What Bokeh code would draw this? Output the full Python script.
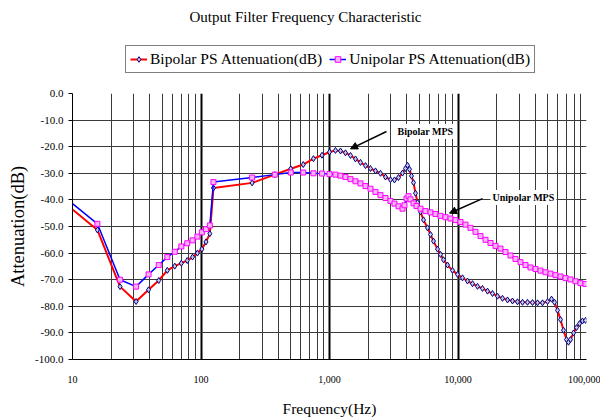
from bokeh.plotting import figure
from bokeh.layouts import column
from bokeh.models import (Range1d, FixedTicker, NumeralTickFormatter, Legend, LegendItem,
                          Label, Arrow, NormalHead)
from bokeh.embed import file_html
from bokeh.resources import INLINE

FONT = "Liberation Serif"

# ---- data ----
bipolar_freq = [10, 15.625, 23.44, 31.25, 39.06, 46.88, 54.69, 62.5, 70.31, 78.13, 85.94, 93.75,
                101.56, 109.38, 117.19, 125, 250, 375, 500, 625, 750, 875, 1000,
                1113, 1218, 1332, 1457, 1593, 1742, 1906, 2084, 2279, 2493,
                2727, 2982, 3205, 3444, 3700, 3904, 4046, 4193, 4346, 4505,
                4669, 4840, 5108, 5390, 5791, 6110, 6447, 6927, 7310, 7714,
                8287, 9064, 9911, 10840, 11856, 12968, 14185, 15512, 16966, 18557,
                20297, 22200, 24282, 26558, 29049, 31772, 34751, 38009, 41572, 45470,
                49733, 53432, 56381, 59493, 62776, 66239, 69894, 72440, 75082, 79226,
                83598, 88213, 93081, 98225]
bipolar_db = [-43.6, -51.3, -72.6, -78.2, -73.8, -70.3, -66.5, -64.9, -63.8, -62.8, -61.5, -60.0,
              -58.5, -55.8, -52.7, -35.5, -33.6, -30.5, -28.3, -26.7, -24.5, -23.2, -22.0,
              -21.4, -21.6, -22.3, -23.3, -24.6, -25.9, -27.1, -28.2, -29.1, -30.0,
              -31.4, -32.4, -32.5, -31.6, -29.9, -28.2, -27.0, -28.5, -31.0, -33.5,
              -37.5, -41.0, -44.5, -47.5, -50.5, -53.0, -55.5, -58.5, -60.5, -62.5,
              -64.5, -66.5, -68.0, -69.3, -70.5, -71.5, -72.5, -73.3, -74.3, -75.2,
              -76.2, -77.0, -77.6, -78.0, -78.3, -78.5, -78.5, -78.6, -78.7, -78.7,
              -78.2, -77.3, -78.5, -81.5, -85.0, -89.0, -92.5, -93.5, -92.5, -90.0,
              -88.0, -86.5, -85.5, -85.3]

unipolar_freq = [10, 15.625, 23.44, 31.25, 39.06, 46.88, 54.69, 62.5, 70.31, 78.13, 85.94, 93.75,
                 101.56, 109.38, 117.19, 125, 250, 375, 500, 625, 750, 875, 1000,
                 1113, 1218, 1332, 1457, 1593, 1742, 1906, 2084, 2279, 2493,
                 2727, 2982, 3205, 3444, 3700, 3835, 3975, 4119, 4269, 4505,
                 4754, 5108, 5587, 6110, 6683, 7310, 7995, 8745, 9562, 10458,
                 11439, 12512, 13685, 14966, 16370, 17905, 19584, 21419, 23428, 25625,
                 28027, 30655, 33529, 36672, 40111, 43871, 47984, 52483, 57400, 62776,
                 68653, 75082, 82114, 89808, 98225]
unipolar_db = [-41.4, -49.0, -70.0, -72.6, -68.0, -64.5, -61.5, -59.5, -57.5, -56.3, -55.2, -53.8,
               -52.2, -51.0, -49.6, -33.3, -31.6, -30.5, -29.7, -29.7, -30.0, -30.1, -30.3,
               -30.5, -30.9, -31.4, -32.2, -33.0, -33.8, -34.8, -35.8, -37.0, -38.2,
               -39.3, -40.4, -41.4, -42.4, -43.3, -42.0, -39.5, -38.6, -39.8, -41.3,
               -42.3, -43.3, -44.2, -44.7, -45.3, -46.0, -46.5, -47.0, -47.6, -48.3,
               -49.3, -50.5, -52.0, -53.6, -55.0, -56.2, -57.3, -58.3, -59.6, -60.9,
               -62.2, -63.4, -64.5, -65.4, -66.0, -66.6, -67.2, -67.7, -68.3, -68.8,
               -69.4, -69.9, -70.6, -71.3, -71.6]

x_ticks = [10, 100, 1000, 10000, 100000]
x_minor_ticks = [m * d for d in [10, 100, 1000, 10000] for m in range(2, 10)]
y_ticks = list(range(-100, 1, 10))

title_text = "Output Filter Frequency Characteristic"
series_names = ["Bipolar PS Attenuation(dB)", "Unipolar PS Attenuation(dB)"]

# annotation anchors (frequency, dB)
bip_note = dict(text="Bipolar MPS", x=3263, y=-14.3)
bip_arrow = dict(x0=2777, y0=-14.3, x1=1457, y1=-20.8)
uni_note = dict(text="Unipolar MPS", x=17905, y=-39.1)
uni_arrow = dict(x0=15512, y0=-39.5, x1=8587, y1=-45.0)

# styles
BIP_LINE = dict(line_color="#ff0000", line_width=2)
BIP_MARK = dict(marker="diamond", size=6, line_color="#000080", fill_color="#c8c8e6", line_width=1)
UNI_LINE = dict(line_color="#0000ff", line_width=1.5)
UNI_MARK = dict(marker="square", size=5, line_color="#ff00ff", fill_color="#f4b4f4", line_width=1)

# ---- header: title + legend (its frame is aligned with the main plot's frame) ----
head = figure(width=600, height=85, x_axis_type="log",
              x_range=Range1d(10, 100000), y_range=Range1d(0, 1),
              output_backend="svg", toolbar_location=None, title=None,
              x_axis_location=None, y_axis_location=None, min_border=0)
head.outline_line_color = None
head.background_fill_color = "white"
head.border_fill_color = "white"
head.xgrid.visible = False
head.ygrid.visible = False
# legend proxies: same series, falling outside this header's (0..1) y-range, so only the legend shows them
hbl = head.line(bipolar_freq, bipolar_db, **BIP_LINE)
hbm = head.scatter(bipolar_freq, bipolar_db, **BIP_MARK)
hul = head.line(unipolar_freq, unipolar_db, **UNI_LINE)
hum = head.scatter(unipolar_freq, unipolar_db, **UNI_MARK)
legend = Legend(items=[LegendItem(label=series_names[0], renderers=[hbl, hbm]),
                       LegendItem(label=series_names[1], renderers=[hul, hum])],
                orientation="horizontal", location=(53, 12),
                label_text_font=FONT, label_text_font_size="15.5px", label_text_color="black",
                border_line_color="black", border_line_width=1, background_fill_color="white",
                glyph_width=17, glyph_height=14, spacing=7, padding=4, label_standoff=3,
                margin=0)
head.add_layout(legend, "center")
head.add_layout(Label(x=233, y=69, x_units="screen", y_units="screen", text=title_text,
                      text_font=FONT, text_font_size="15px", text_color="black",
                      text_align="center", text_baseline="middle"))

# ---- main plot ----
p = figure(width=600, height=335, x_axis_type="log",
           x_range=Range1d(10, 100000), y_range=Range1d(-100, 0),
           output_backend="svg", toolbar_location=None, title=None,
           min_border_left=72, min_border_right=14, min_border_top=8, min_border_bottom=61)
p.background_fill_color = "white"
p.border_fill_color = "white"
p.outline_line_color = None

p.xgrid.grid_line_color = "black"
p.xgrid.grid_line_width = 2
p.xgrid.minor_grid_line_color = "#3a3a3a"
p.xgrid.minor_grid_line_width = 1
p.ygrid.grid_line_color = "#3a3a3a"
p.ygrid.grid_line_width = 1

p.xaxis.ticker = FixedTicker(ticks=x_ticks, minor_ticks=x_minor_ticks)
p.xgrid.ticker = p.xaxis.ticker
p.xaxis.formatter = NumeralTickFormatter(format="0,0")
p.xaxis.major_tick_out = 0
p.xaxis.major_tick_in = 0
p.xaxis.minor_tick_out = 0
p.xaxis.minor_tick_in = 0
p.xaxis.major_label_standoff = 16
p.xaxis.axis_label = "Frequency(Hz)"
p.xaxis.axis_label_standoff = 14

p.yaxis.ticker = FixedTicker(ticks=y_ticks)
p.ygrid.ticker = p.yaxis.ticker
p.yaxis.formatter = NumeralTickFormatter(format="0.0")
p.yaxis.major_tick_out = 4
p.yaxis.major_tick_in = 0
p.yaxis.major_label_standoff = 5
p.yaxis.axis_label = "Attenuation(dB)"
p.yaxis.axis_label_standoff = 4

for ax in (p.xaxis, p.yaxis):
    ax.axis_line_color = "black"
    ax.axis_line_width = 1
    ax.major_tick_line_color = "black"
    ax.major_label_text_font = FONT
    ax.major_label_text_color = "black"
    ax.axis_label_text_font = FONT
    ax.axis_label_text_font_style = "normal"
    ax.axis_label_text_color = "black"
p.xaxis.major_label_text_font_size = "10px"
p.yaxis.major_label_text_font_size = "11px"
p.xaxis.axis_label_text_font_size = "15.5px"
p.yaxis.axis_label_text_font_size = "18.5px"

p.line(bipolar_freq, bipolar_db, **BIP_LINE)
p.scatter(bipolar_freq[1:], bipolar_db[1:], **BIP_MARK)
p.line(unipolar_freq, unipolar_db, **UNI_LINE)
p.scatter(unipolar_freq[1:], unipolar_db[1:], **UNI_MARK)

for note, arr in ((bip_note, bip_arrow), (uni_note, uni_arrow)):
    p.add_layout(Arrow(end=NormalHead(size=7, fill_color="black", line_color="black"),
                       x_start=arr["x0"], y_start=arr["y0"], x_end=arr["x1"], y_end=arr["y1"],
                       line_color="black", line_width=1.5))
    p.add_layout(Label(x=note["x"], y=note["y"], text=note["text"], text_font=FONT,
                       text_font_size="10px", text_font_style="bold", text_color="black",
                       text_baseline="middle", background_fill_color="white", padding=2))

layout = column(head, p, spacing=0)
open("out.html", "w").write(file_html(layout, INLINE))
